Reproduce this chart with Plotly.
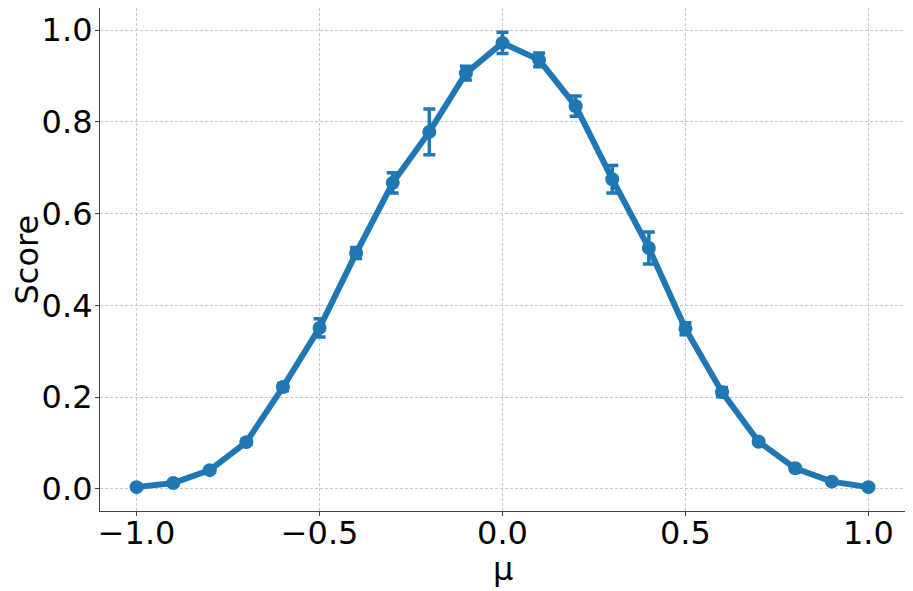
import plotly.graph_objects as go

mu = [-1.0, -0.9, -0.8, -0.7, -0.6, -0.5, -0.4, -0.3, -0.2, -0.1, 0.0,
      0.1, 0.2, 0.3, 0.4, 0.5, 0.6, 0.7, 0.8, 0.9, 1.0]
score = [0.004, 0.013, 0.041, 0.102, 0.222, 0.351, 0.514, 0.667, 0.778, 0.906, 0.972,
         0.935, 0.834, 0.675, 0.525, 0.349, 0.211, 0.103, 0.045, 0.016, 0.004]
err = [0.002, 0.003, 0.004, 0.005, 0.008, 0.02, 0.012, 0.022, 0.05, 0.015, 0.023,
       0.015, 0.022, 0.03, 0.035, 0.013, 0.01, 0.005, 0.004, 0.003, 0.002]

blue = "#1f77b4"
font = "DejaVu Sans, Liberation Sans, sans-serif"

fig = go.Figure()
fig.add_trace(go.Scatter(
    x=mu, y=score, mode="lines+markers",
    line=dict(color=blue, width=6),
    marker=dict(color=blue, size=14),
    error_y=dict(type="data", array=err, visible=True, color=blue, thickness=3.5, width=6),
    showlegend=False,
))

axis_common = dict(
    showline=True, linecolor="#444444", linewidth=1.2, mirror=True,
    ticks="outside", ticklen=4, tickcolor="#444444", tickwidth=1.2,
    showgrid=True, gridcolor="#c8c8c8", griddash="3px,2px", gridwidth=1,
    zeroline=False, automargin=False,
    tickfont=dict(family=font, size=32, color="black"),
)

fig.update_xaxes(range=[-1.1, 1.1], tickvals=[-1.0, -0.5, 0.0, 0.5, 1.0],
                 ticktext=["\u22121.0", "\u22120.5", "0.0", "0.5", "1.0"],
                 ticklabelstandoff=-11,
                 **axis_common)
fig.update_yaxes(range=[-0.048, 1.048], tickvals=[0.0, 0.2, 0.4, 0.6, 0.8, 1.0],
                 tickformat=".1f", ticklabelstandoff=-4,
                 **axis_common)

fig.add_annotation(text="μ", xref="paper", yref="paper", x=0.5, y=0,
                   xanchor="center", yanchor="middle", yshift=-58, showarrow=False,
                   font=dict(family=font, size=32, color="black"))
fig.add_annotation(text="Score", xref="paper", yref="paper", x=0, y=0.5,
                   xanchor="center", yanchor="middle", xshift=-74, textangle=-90,
                   showarrow=False, font=dict(family=font, size=32, color="black"))

fig.update_layout(
    width=905, height=583,
    margin=dict(l=92, r=8, t=0, b=80),
    plot_bgcolor="white", paper_bgcolor="white",
)

fig.write_html("out.html")
